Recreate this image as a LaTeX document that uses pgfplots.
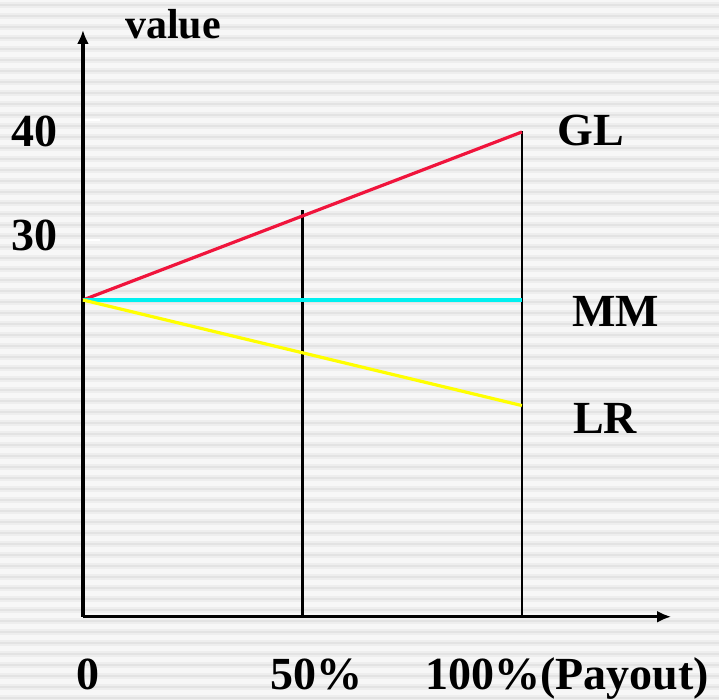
\documentclass[border=0pt]{standalone}
\usepackage{pgfplots}
\pgfplotsset{compat=1.18}
\usepackage{fontspec}
\setmainfont{Liberation Serif}
\usetikzlibrary{arrows.meta,backgrounds,calc}

\definecolor{glred}{HTML}{F0143C}
\definecolor{mmcyan}{HTML}{00F0F0}
\definecolor{lryellow}{HTML}{FFFF00}
\definecolor{stripe}{HTML}{E3E3E3}
\definecolor{stripesoft}{HTML}{EEEEEE}

\newcommand{\lab}{\fontsize{23}{26}\selectfont\bfseries}

\begin{document}
\begin{tikzpicture}
\begin{axis}[
  x=2.195pt, y=6pt,
  xmin=0, xmax=134, ymin=-1.4, ymax=47.5,
  axis lines=left,
  axis line style={black, line width=1.6pt, -{Latex[length=7pt,width=6pt]}},
  xtick=\empty,
  ytick={30,40}, yticklabels={},
  tick align=inside,
  major tick length=8.5pt,
  ytick style={white, line width=1.2pt},
  clip=false,
]
% payout markers at 50% and 100%
\addplot[black, line width=1.3pt] coordinates {(50,-1.4) (50,32.5)};
\addplot[black, line width=1.3pt] coordinates {(100,-1.4) (100,39.1)};

% value of the firm against payout
\addplot[glred, line width=1.6pt] coordinates {(0,25) (50,32) (100,39)};
\addplot[mmcyan, line width=1.6pt] coordinates {(0,25) (50,25) (100,25)};
\addplot[lryellow, line width=1.6pt] coordinates {(0,25) (50,20.6) (100,16.2)};

% labels
\node[anchor=base, inner sep=0pt, font=\fontsize{21}{24}\selectfont\bfseries] at (axis cs:20.5,46.8) {value};
\node[anchor=base east, inner sep=0pt, font=\lab] at (axis cs:-5.7,37.75) {40};
\node[anchor=base east, inner sep=0pt, font=\lab] at (axis cs:-5.7,29.1) {30};
\node[anchor=base, inner sep=0pt, font=\lab] at (axis cs:1.1,-7.5) {0};
\node[anchor=base, inner sep=0pt, font=\lab] at (axis cs:53.1,-7.5) {50\%};
\node[anchor=base west, inner sep=0pt, font=\lab] at (axis cs:77.9,-7.5) {100\%(Payout)};
\node[anchor=base west, inner sep=0pt, font=\lab] at (axis cs:108,37.9) {GL};
\node[anchor=base west, inner sep=0pt, font=\lab] at (axis cs:111.4,22.75) {MM};
\node[anchor=base west, inner sep=0pt, font=\lab] at (axis cs:111.6,13.9) {LR};

\coordinate (bl) at (axis cs:-18.9,-8.33);
\coordinate (tr) at (axis cs:144.9,50);
\end{axis}

% striped backdrop
\begin{scope}[on background layer]
  \clip (bl) rectangle (tr);
  \fill[white!50!stripesoft] (bl) rectangle (tr);
  \foreach \i in {0,...,64} {
    \fill[stripesoft] ($(bl|-tr)+(0,-\i*5.5pt-1.2pt)$) rectangle ++(360pt,-2.6pt);
    \fill[stripe] ($(bl|-tr)+(0,-\i*5.5pt-1.9pt)$) rectangle ++(360pt,-1.2pt);
  }
\end{scope}
\pgfresetboundingbox
\useasboundingbox (bl) rectangle (tr);
\end{tikzpicture}
\end{document}
